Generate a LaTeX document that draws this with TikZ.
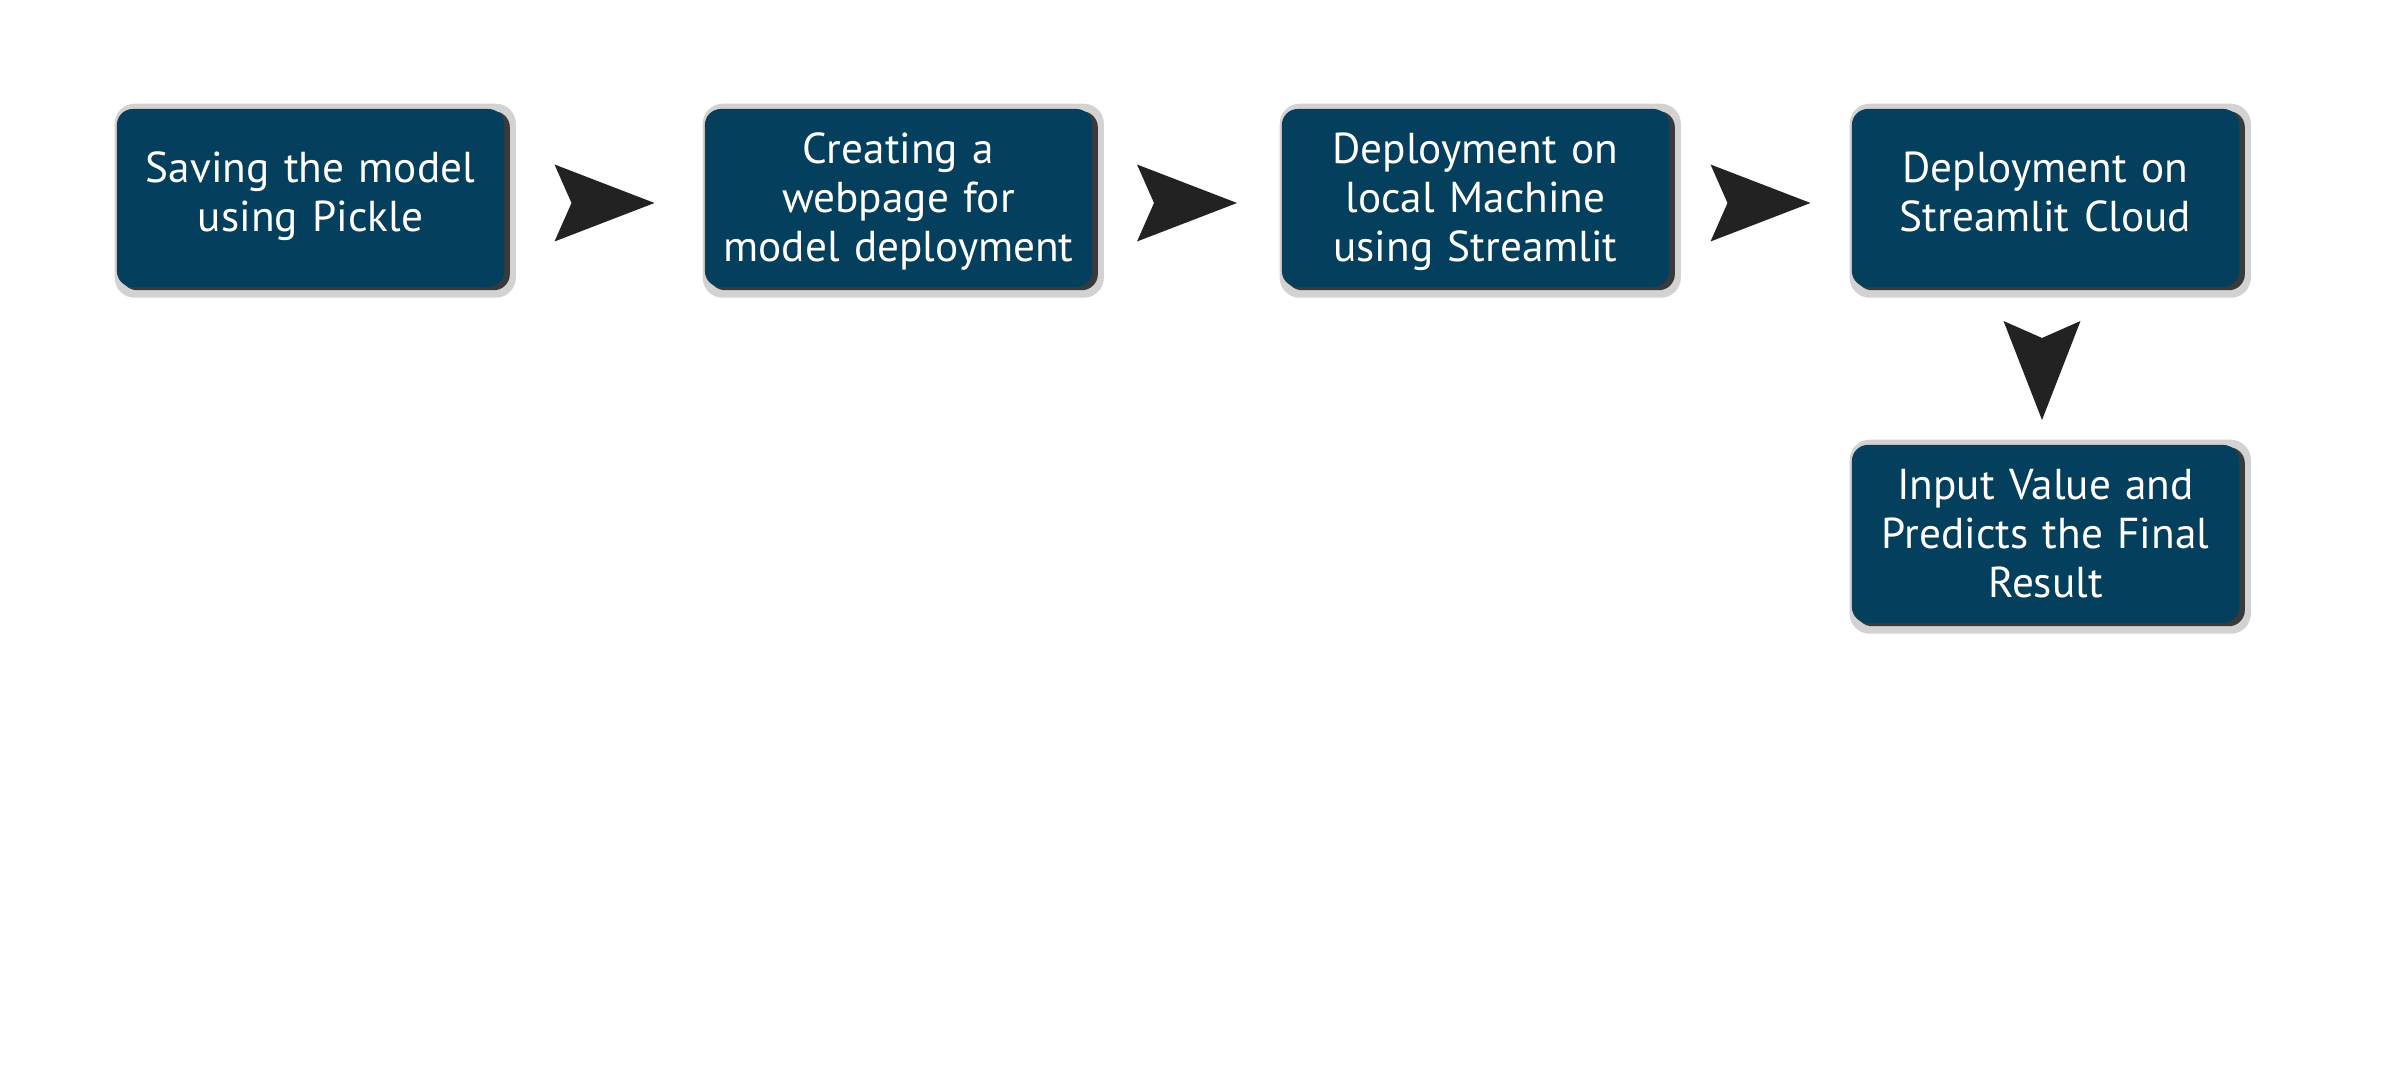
\documentclass[tikz,border=0pt]{standalone}
\usepackage{fontspec}
\setmainfont{PT Sans}
\usetikzlibrary{backgrounds,calc}
\pgfdeclarelayer{bottom}
\pgfsetlayers{bottom,background,main}
\definecolor{boxblue}{HTML}{043F5E}
\definecolor{shadowdark}{HTML}{3A3A3A}
\definecolor{halogray}{HTML}{D2D2D2}
\definecolor{chevgray}{HTML}{222222}
\begin{document}
\begin{tikzpicture}[x=0.01cm,y=-0.01cm,
  stepbox/.style={fill=boxblue, rounded corners=0.16cm, minimum width=3.87cm,
    minimum height=1.78cm, text=white, align=center, inner sep=0pt, text width=3.75cm,
    font=\fontsize{12.3}{14}\selectfont,
    execute at begin node={\rule{0pt}{#1}}, execute at end node=\strut},
  stepbox/.default=12.6pt,
  chev/.style={fill=chevgray, draw=none}]
\begin{pgfonlayer}{bottom}
\fill[white] (0,0) rectangle (2400,1080);
\end{pgfonlayer}
\useasboundingbox (0,0) rectangle (2400,1080);

\node[stepbox=9.2pt] (b1) at (310.5,198) {Saving the model\\using Pickle};
\node[stepbox] (b2) at (898.5,198) {Creating a\\webpage for\\model deployment};
\node[stepbox] (b3) at (1475.5,198) {Deployment on\\local Machine\\using Streamlit};
\node[stepbox=9.2pt] (b4) at (2045.5,198) {Deployment on\\Streamlit Cloud};
\node[stepbox] (b5) at (2045.5,534) {Input Value and\\Predicts the Final\\Result};

\begin{pgfonlayer}{background}
  \foreach \n in {b1,b2,b3,b4,b5}{
    \fill[halogray, rounded corners=0.2cm] ($(\n.north west)+(-1.5,-4.5)$) rectangle ($(\n.south east)+(11,10)$);
    \fill[shadowdark, rounded corners=0.16cm] ($(\n.north west)+(5,3)$) rectangle ($(\n.south east)+(5,2.5)$);
  }
\end{pgfonlayer}

\foreach \a/\b in {b1/b2,b2/b3,b3/b4}{
  \coordinate (m) at ($(\a.east)!0.5!(\b.west)$);
  \fill[chev] ($(m)+(-50,-33.5)$) -- ($(m)+(50,5)$) -- ($(m)+(-50,43.5)$) -- ($(m)+(-33,5)$) -- cycle;
}
\coordinate (md) at ($(b4.south)!0.5!(b5.north)$);
\fill[chev] ($(md)+(-42,-45)$) -- ($(md)+(-3.5,-28)$) -- ($(md)+(35,-45)$) -- ($(md)+(-3.5,54)$) -- cycle;
\end{tikzpicture}
\end{document}
